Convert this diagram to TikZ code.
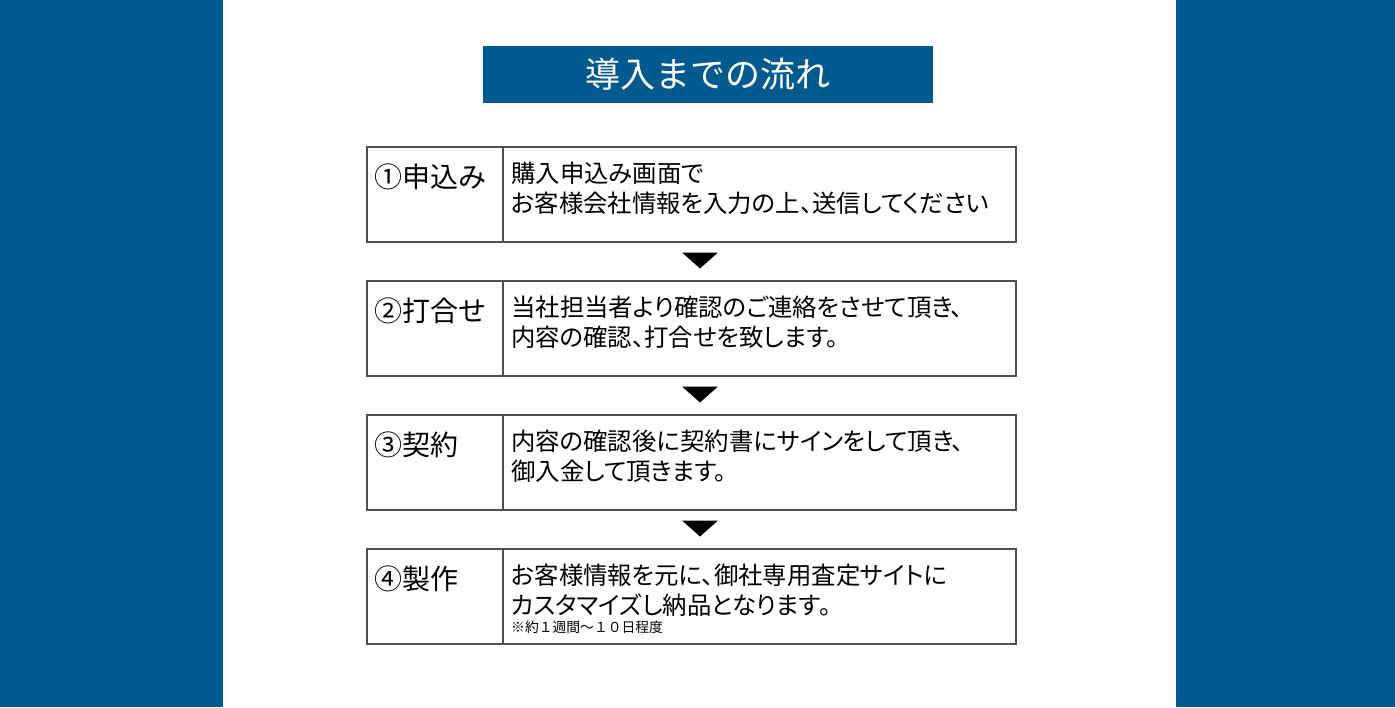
\documentclass[tikz,border=0pt]{standalone}
\usepackage{fontspec}
\setmainfont{Noto Sans CJK JP}
\newfontfamily\propjp[RawFeature=+palt]{Noto Sans CJK JP}
\definecolor{bandblue}{HTML}{005A8E}
\definecolor{boxgray}{HTML}{505050}
\tikzset{
  stepframe/.style={draw=boxgray, line width=1.3pt, fill=white},
  steplabel/.style={anchor=base west, inner sep=0pt, font=\fontsize{28}{28}\selectfont},
  stepbody/.style={anchor=base west, inner sep=0pt, font=\propjp\fontsize{24.4}{24.4}\selectfont},
  stepnote/.style={anchor=base west, inner sep=0pt, font=\fontsize{13.8}{13.8}\selectfont},
  downtri/.style={fill=black, draw=none}
}
\begin{document}
\begin{tikzpicture}[x=1pt,y=-1pt]
\useasboundingbox (0,0) rectangle (1395,707);
\fill[white] (0,0) rectangle (1395,707);
\fill[bandblue] (0,0) rectangle (223,707);
\fill[bandblue] (1176,0) rectangle (1395,707);
% title
\node[fill=bandblue, minimum width=450pt, minimum height=57pt, inner sep=0pt, text=white,
      font=\fontsize{35}{35}\selectfont] (title) at (708,74) {導入までの流れ};
% boxes
\foreach \i/\t in {1/147,2/281,3/415,4/549}{
  \draw[stepframe] (367,\t) rectangle (1016,\t+95);
  \draw[draw=boxgray, line width=1.3pt] (503,\t) -- (503,\t+95);
  \coordinate (top\i) at (700,\t);
  \coordinate (bot\i) at (700,\t+95);
}
% labels
\node[steplabel] (l1) at (374,187) {①申込み};
\node[steplabel] (l2) at (374,321) {②打合せ};
\node[steplabel] (l3) at (374,455) {③契約};
\node[steplabel] (l4) at (374,589) {④製作};
% bodies
\node[stepbody] (b1a) at (511,182) {購入申込み画面で};
\node[stepbody] (b1b) at (511,212) {お客様会社情報を入力の上、送信してください};
\node[stepbody] (b2a) at (511,316) {当社担当者より確認のご連絡をさせて頂き、};
\node[stepbody] (b2b) at (511,346) {内容の確認、打合せを致します。};
\node[stepbody] (b3a) at (511,450) {内容の確認後に契約書にサインをして頂き、};
\node[stepbody] (b3b) at (511,480) {御入金して頂きます。};
\node[stepbody] (b4a) at (511,584) {お客様情報を元に、御社専用査定サイトに};
\node[stepbody] (b4b) at (511,614) {カスタマイズし納品となります。};
\node[stepnote] (n4) at (511,632) {※約１週間〜１０日程度};
% arrows
\foreach \a/\b in {1/2,2/3,3/4}{
  \path (bot\a) -- (top\b) coordinate[pos=0.5] (mid\a);
  \fill[downtri] ([shift={(-18,-9)}]mid\a) -- ([shift={(18,-9)}]mid\a) -- ([shift={(0,7)}]mid\a) -- cycle;
}
\end{tikzpicture}
\end{document}
